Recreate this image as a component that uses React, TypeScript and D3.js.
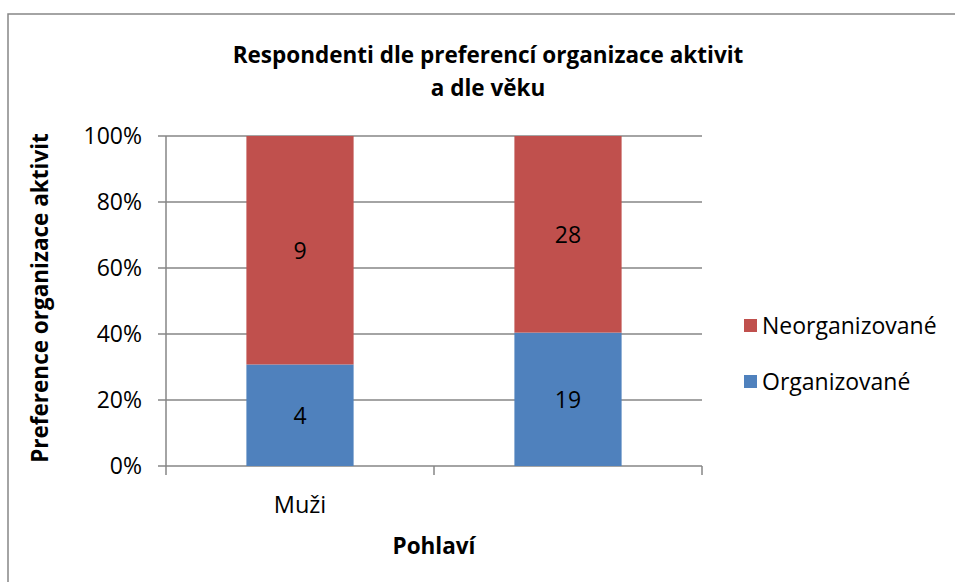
import React from "react";
import * as d3 from "d3";

const categories = ["Muži", ""];
const seriesNames = ["Organizované", "Neorganizované"];
const organizovane = [4, 19];
const neorganizovane = [9, 28];
const yTicks = [0, 0.2, 0.4, 0.6, 0.8, 1];
const colors = ["#4F81BD", "#C0504D"];

const W = 955;
const H = 582;
const font = "'Open Sans', 'Noto Sans', sans-serif";
const plot = { left: 166, right: 702, top: 136, bottom: 466 };

const App: React.FC = () => {
  const x = d3
    .scaleBand<string>()
    .domain(categories.map((c, i) => String(i)))
    .range([plot.left, plot.right])
    .paddingInner(0.6)
    .paddingOuter(0.3);
  const y = d3.scaleLinear().domain([0, 1]).range([plot.bottom, plot.top]);

  const rows = categories.map((c, i) => {
    const total = organizovane[i] + neorganizovane[i];
    return { key: String(i), Organizované: organizovane[i] / total, Neorganizované: neorganizovane[i] / total, raw: [organizovane[i], neorganizovane[i]] };
  });
  const stack = d3.stack<any>().keys(seriesNames)(rows);

  const step = (plot.right - plot.left) / categories.length;
  const boundaries = d3.range(categories.length + 1).map(i => plot.left + i * step);

  return (
    <svg width={W} height={H} style={{ position: "absolute", left: 0, top: 0, background: "#fff" }} fontFamily={font}>
      <rect x={8} y={14} width={W + 10} height={H + 10} fill="#fff" stroke="#868686" strokeWidth={1.5} />

      <text x={488} y={63} textAnchor="middle" fontSize={22.5} fontWeight="bold" fill="#000">
        Respondenti dle preferencí organizace aktivit
      </text>
      <text x={488} y={96} textAnchor="middle" fontSize={22.5} fontWeight="bold" fill="#000">
        a dle věku
      </text>

      {yTicks.map(t => (
        <g key={t}>
          <line x1={plot.left - 8} x2={plot.right} y1={y(t)} y2={y(t)} stroke="#868686" strokeWidth={1.5} />
          <text x={142} y={y(t)} dy="0.36em" textAnchor="end" fontSize={23} fill="#000">
            {d3.format(".0%")(t)}
          </text>
        </g>
      ))}
      <line x1={plot.left} x2={plot.left} y1={plot.top} y2={plot.bottom} stroke="#868686" strokeWidth={1.5} />
      {boundaries.map((b, i) => (
        <line key={i} x1={b} x2={b} y1={plot.bottom} y2={plot.bottom + 9} stroke="#868686" strokeWidth={1.5} />
      ))}

      {stack.map((s, si) =>
        s.map((d, i) => (
          <g key={si + "-" + i}>
            <rect
              x={x(String(i))}
              width={x.bandwidth()}
              y={y(d[1])}
              height={y(d[0]) - y(d[1])}
              fill={colors[si]}
            />
            <text
              x={(x(String(i)) || 0) + x.bandwidth() / 2}
              y={(y(d[0]) + y(d[1])) / 2}
              dy="0.36em"
              textAnchor="middle"
              fontSize={23}
              fill="#000"
            >
              {rows[i].raw[si]}
            </text>
          </g>
        ))
      )}

      {categories.map((c, i) => (
        <text key={i} x={(x(String(i)) || 0) + x.bandwidth() / 2} y={513} textAnchor="middle" fontSize={23.5} fill="#000">
          {c}
        </text>
      ))}

      <text x={434} y={554} textAnchor="middle" fontSize={22.5} fontWeight="bold" fill="#000">
        Pohlaví
      </text>
      <text transform="translate(48,298) rotate(-90)" textAnchor="middle" fontSize={22.5} fontWeight="bold" fill="#000">
        Preference organizace aktivit
      </text>

      {[1, 0].map((si, li) => (
        <g key={si} transform={`translate(744,${319 + li * 56})`}>
          <rect width={13} height={13} fill={colors[si]} />
          <text x={18} y={6.5} dy="0.36em" fontSize={23} fill="#000">
            {seriesNames[si]}
          </text>
        </g>
      ))}
    </svg>
  );
};

export default App;
